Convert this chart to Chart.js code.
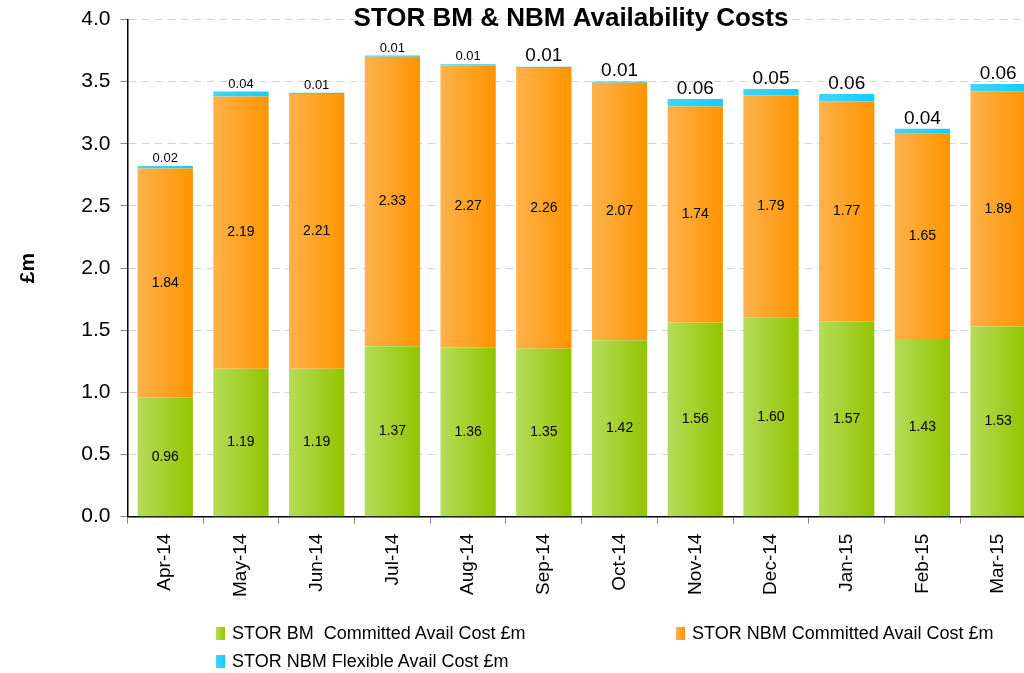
<!DOCTYPE html>
<html>
<head>
<meta charset="utf-8">
<script src="https://cdn.jsdelivr.net/npm/chart.js@4.4.0/dist/chart.umd.min.js"></script>
<style>
  html, body { margin: 0; padding: 0; background: #fff; overflow: hidden; }
  #wrap { position: relative; width: 1036px; height: 673px; }
  .leg { position: absolute; font: 18px "Liberation Sans", Arial, sans-serif; color: #000; white-space: pre; }
  .leg span { display: inline-block; width: 9px; height: 13px; margin-right: 7px; vertical-align: -1px; }
</style>
</head>
<body>
<div id="wrap">
  <canvas id="chart-1" width="1036" height="673"></canvas>
  <div class="leg" style="left:216px; top:623px;"><span style="background:linear-gradient(90deg,#b5dc5a,#93c400)"></span>STOR BM  Committed Avail Cost £m</div>
  <div class="leg" style="left:676px; top:623px;"><span style="background:linear-gradient(90deg,#fdb24c,#ff9400)"></span>STOR NBM Committed Avail Cost £m</div>
  <div class="leg" style="left:216px; top:651px;"><span style="background:linear-gradient(90deg,#44d4f8,#12cdfb)"></span>STOR NBM Flexible Avail Cost £m</div>
</div>
<script>
// data dari grafik
const months = ['Apr-14', 'May-14', 'Jun-14', 'Jul-14', 'Aug-14', 'Sep-14', 'Oct-14', 'Nov-14', 'Dec-14', 'Jan-15', 'Feb-15', 'Mar-15'];
const bmCommitted = [0.96, 1.19, 1.19, 1.37, 1.36, 1.35, 1.42, 1.56, 1.60, 1.57, 1.43, 1.53];
const nbmCommitted = [1.84, 2.19, 2.21, 2.33, 2.27, 2.26, 2.07, 1.74, 1.79, 1.77, 1.65, 1.89];
const nbmFlexible = [0.02, 0.04, 0.01, 0.01, 0.01, 0.01, 0.01, 0.06, 0.05, 0.06, 0.04, 0.06];
const yTicks = [0, 0.5, 1, 1.5, 2, 2.5, 3, 3.5, 4];

const FONT = '"Liberation Sans", Arial, sans-serif';
const BAR_PCT = 0.73;

// warna gradien kiri -> kanan
const palette = [
  ['#b5dc5a', '#93c400'],
  ['#fdb24c', '#ff9400'],
  ['#44d4f8', '#12cdfb']
];

function gradientFill(pair) {
  return ctx => {
    const chart = ctx.chart;
    const xs = chart.scales.x;
    if (!xs || !chart.chartArea || ctx.dataIndex === undefined) return pair[0];
    const cx = xs.getPixelForValue(ctx.dataIndex);
    const w = (chart.chartArea.width / months.length) * BAR_PCT;
    const g = chart.ctx.createLinearGradient(cx - w / 2, 0, cx + w / 2, 0);
    g.addColorStop(0, pair[0]);
    g.addColorStop(1, pair[1]);
    return g;
  };
}

// label nilai di dalam / di atas batang
const valueLabels = {
  id: 'valueLabels',
  afterDatasetsDraw(chart) {
    const c = chart.ctx;
    c.save();
    c.fillStyle = '#000';
    c.textAlign = 'center';
    chart.data.datasets.forEach((ds, di) => {
      const meta = chart.getDatasetMeta(di);
      meta.data.forEach((el, i) => {
        const txt = ds.data[i].toFixed(2);
        if (di < 2) {
          c.font = '14px ' + FONT;
          c.textBaseline = 'middle';
          c.fillText(txt, el.x, (el.y + el.base) / 2);
        } else {
          c.font = (i < 5 ? '13px ' : '19px ') + FONT;
          c.textBaseline = 'bottom';
          c.fillText(txt, el.x, el.y - 1);
        }
      });
    });
    c.restore();
  }
};

const titlePlugin = {
  id: 'topTitle',
  afterDraw(chart) {
    const c = chart.ctx;
    c.save();
    c.font = 'bold 26px ' + FONT;
    c.fillStyle = '#000';
    c.textAlign = 'center';
    c.textBaseline = 'middle';
    c.fillText('STOR BM & NBM Availability Costs', 571, 19);
    c.restore();
  }
};

new Chart(document.getElementById('chart-1').getContext('2d'), {
  type: 'bar',
  data: {
    labels: months,
    datasets: [
      { label: 'STOR BM  Committed Avail Cost £m', data: bmCommitted, backgroundColor: gradientFill(palette[0]) },
      { label: 'STOR NBM Committed Avail Cost £m', data: nbmCommitted, backgroundColor: gradientFill(palette[1]) },
      { label: 'STOR NBM Flexible Avail Cost £m', data: nbmFlexible, backgroundColor: gradientFill(palette[2]) }
    ]
  },
  options: {
    responsive: false,
    animation: false,
    layout: { padding: { top: 6, right: 0, bottom: 66, left: 16 } },
    datasets: { bar: { barPercentage: BAR_PCT, categoryPercentage: 1, borderWidth: 0 } },
    plugins: {
      legend: { display: false },
      title: { display: false },
      tooltip: { enabled: false }
    },
    scales: {
      x: {
        stacked: true,
        border: { color: '#000', width: 1.5 },
        grid: { display: true, drawOnChartArea: false, offset: true, tickLength: 7, color: '#888' },
        ticks: { color: '#000', maxRotation: 90, minRotation: 90, padding: 10, font: { size: 19, family: FONT } }
      },
      y: {
        stacked: true,
        min: 0,
        max: 4,
        afterBuildTicks: axis => { axis.ticks = yTicks.map(v => ({ value: v })); },
        border: { color: '#000', width: 1.5, dash: [8, 5] },
        grid: { color: '#d4d4d4', tickLength: 7, tickColor: '#888', tickBorderDash: [] },
        ticks: { color: '#000', padding: 10, font: { size: 21, family: FONT, lineHeight: 0.9 }, callback: v => Number(v).toFixed(1) },
        title: { display: true, text: '£m', color: '#000', padding: { top: 0, bottom: 30 }, font: { size: 21, weight: 'bold', family: FONT } }
      }
    }
  },
  plugins: [valueLabels, titlePlugin]
});
</script>
</body>
</html>
